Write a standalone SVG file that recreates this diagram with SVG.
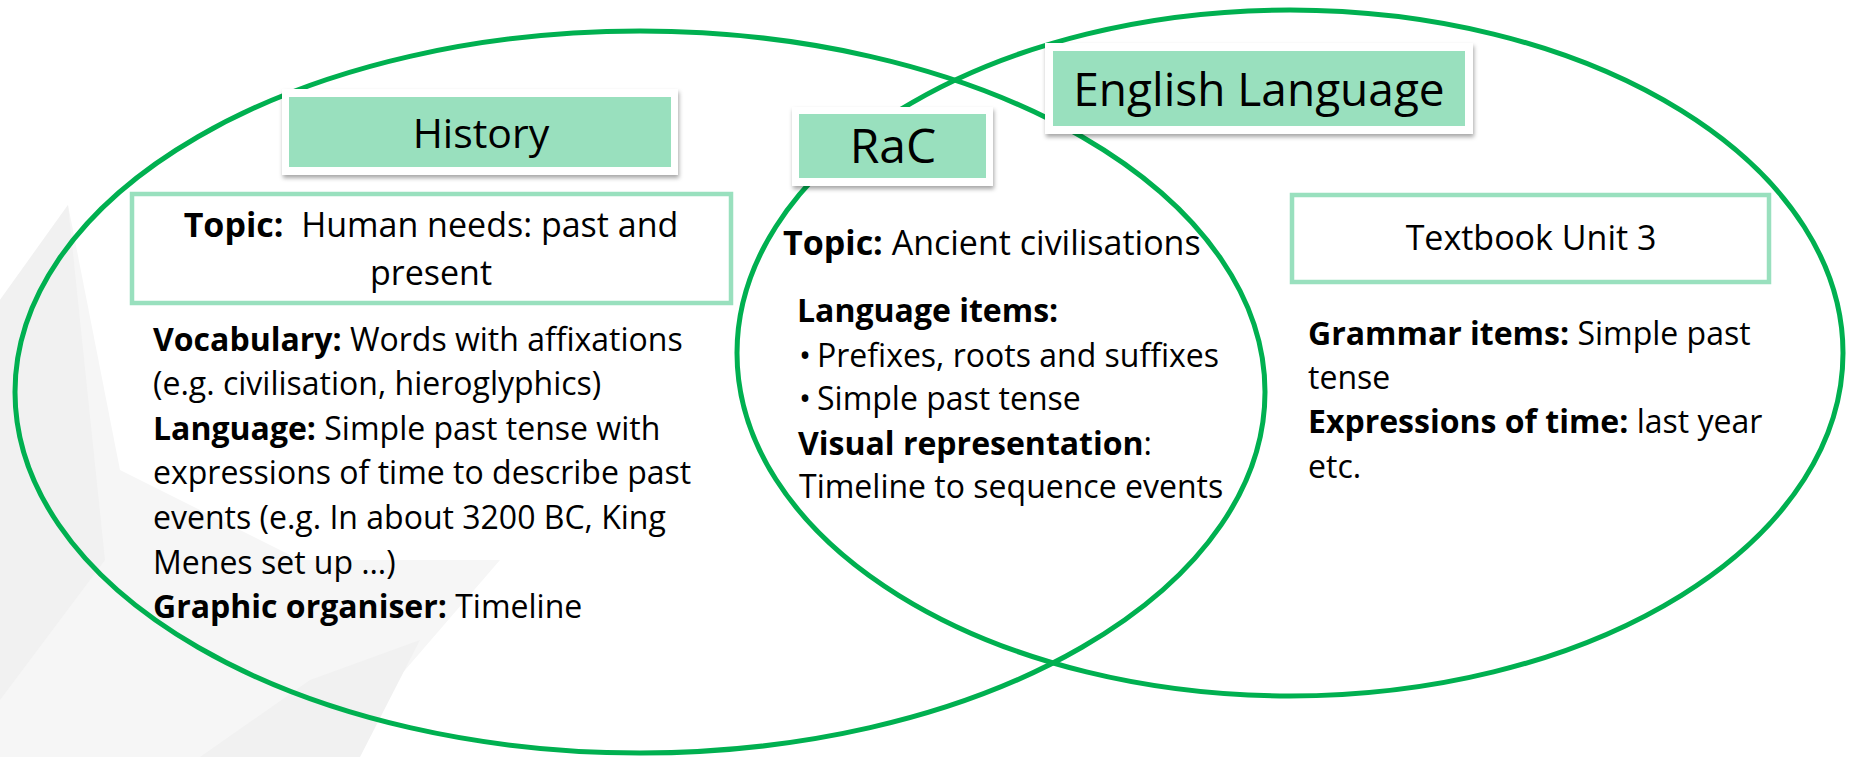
<svg xmlns="http://www.w3.org/2000/svg" width="1849" height="757" viewBox="0 0 1849 757">
  <defs>
    <filter id="shadow" x="-10%" y="-20%" width="120%" height="150%">
      <feDropShadow dx="1" dy="3" stdDeviation="2" flood-color="#000" flood-opacity="0.35"/>
    </filter>
  </defs>
  <style>
    text { font-family: "Open Sans", "Noto Sans", "Liberation Sans", sans-serif; fill: #000; }
    .body { font-size: 32px; }
    .topic { font-size: 34px; }
    .b { font-weight: bold; }
    .venn { fill: none; stroke: #00B050; stroke-width: 5; }
    .title-outer { fill: #fff; filter: url(#shadow); }
    .title-inner { fill: #99E0BE; }
    .subbox { fill: #fff; stroke: #99E0BE; stroke-width: 4.5; }
    .bg1 { fill: #f6f6f6; }
    .bg2 { fill: #f1f1f1; }
  </style>
  <rect width="1849" height="757" fill="#fff"/>
  <g id="background">
    <polygon class="bg1" points="0,300 68,205 120,470 300,560 500,560 330,757 0,757"/>
    <polygon class="bg2" points="0,300 68,205 105,560 0,700"/>
    <polygon class="bg2" points="200,757 310,680 420,640 360,757"/>
  </g>
  <g id="history-circle">
    <ellipse class="venn" cx="640" cy="392" rx="625" ry="361"/>
  </g>
  <g id="english-circle">
    <ellipse class="venn" cx="1290" cy="353" rx="553" ry="343"/>
  </g>
  <g id="connectors"></g>
  <g id="history-title">
    <rect class="title-outer" x="282" y="89" width="396" height="86"/>
    <rect class="title-inner" x="289" y="97" width="382" height="70"/>
    <text x="481" y="148" font-size="41" text-anchor="middle">History</text>
  </g>
  <g id="rac-title">
    <rect class="title-outer" x="792" y="107" width="201" height="79"/>
    <rect class="title-inner" x="799" y="114" width="187" height="64"/>
    <text x="893" y="163" font-size="48" text-anchor="middle">RaC</text>
  </g>
  <g id="english-title">
    <rect class="title-outer" x="1045" y="43" width="428" height="91"/>
    <rect class="title-inner" x="1053" y="51" width="412" height="75"/>
    <text x="1259" y="106" font-size="46" text-anchor="middle">English Language</text>
  </g>
  <g id="history-topic">
    <rect class="subbox" x="132" y="194" width="599" height="109"/>
    <text class="topic" x="431" y="237" text-anchor="middle" xml:space="preserve"><tspan class="b">Topic:</tspan>  Human needs: past and</text>
    <text class="topic" x="431" y="285" text-anchor="middle">present</text>
  </g>
  <g id="history-content">
    <text class="body" x="153" y="351"><tspan class="b">Vocabulary:</tspan> Words with affixations</text>
    <text class="body" x="153" y="395">(e.g. civilisation, hieroglyphics)</text>
    <text class="body" x="153" y="440"><tspan class="b">Language:</tspan> Simple past tense with</text>
    <text class="body" x="153" y="484">expressions of time to describe past</text>
    <text class="body" x="153" y="529">events (e.g. In about 3200 BC, King</text>
    <text class="body" x="153" y="574">Menes set up …)</text>
    <text class="body" x="153" y="618"><tspan class="b">Graphic organiser:</tspan> Timeline</text>
  </g>
  <g id="rac-content">
    <text class="topic" x="783" y="255"><tspan class="b">Topic:</tspan> Ancient civilisations</text>
    <text class="body b" x="797" y="322">Language items:</text>
    <text class="body" x="799" y="367">•</text>
    <text class="body" x="817" y="367">Prefixes, roots and suffixes</text>
    <text class="body" x="799" y="410">•</text>
    <text class="body" x="817" y="410">Simple past tense</text>
    <text class="body" x="798" y="455"><tspan class="b">Visual representation</tspan>:</text>
    <text class="body" x="799" y="498">Timeline to sequence events</text>
  </g>
  <g id="textbook-unit">
    <rect class="subbox" x="1292" y="195" width="477" height="87"/>
    <text x="1531" y="250" font-size="34" text-anchor="middle">Textbook Unit 3</text>
  </g>
  <g id="english-content">
    <text class="body" x="1308" y="345"><tspan class="b">Grammar items:</tspan> Simple past</text>
    <text class="body" x="1308" y="389">tense</text>
    <text class="body" x="1308" y="433"><tspan class="b">Expressions of time:</tspan> last year</text>
    <text class="body" x="1308" y="478">etc.</text>
  </g>
</svg>
